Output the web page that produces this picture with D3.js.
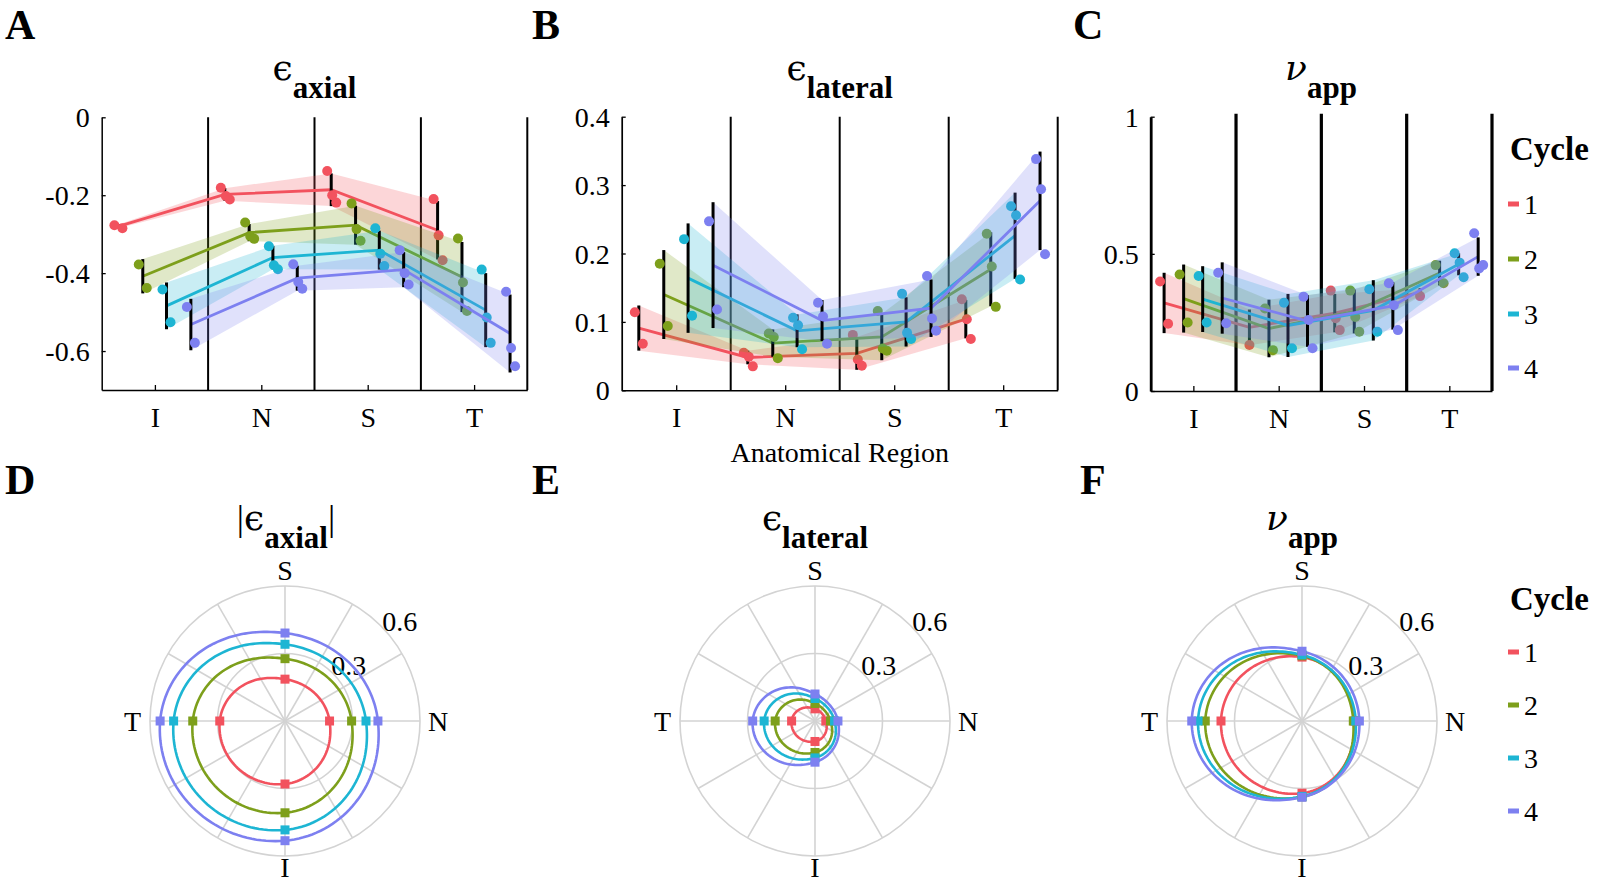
<!DOCTYPE html>
<html><head><meta charset="utf-8">
<script src="https://cdn.jsdelivr.net/npm/d3@7"></script>
<style>
body{margin:0;background:#fff;}
svg{display:block;}
text{font-family:"Liberation Serif","Times New Roman",serif;fill:#000;}
</style>
</head><body>
<svg id="fig" width="1597" height="883"></svg>
<script>
// ---------------- DATA ----------------
const regions = ["I","N","S","T"];
const cycles = ["1","2","3","4"];
const colors = ["#f2525e","#7d9f1b","#1db5d3","#7d80f0"];

// A: axial strain (per cycle, per region I,N,S,T)
const axialMean = [
  [-0.280,-0.198,-0.186,-0.290],
  [-0.408,-0.296,-0.277,-0.410],
  [-0.484,-0.360,-0.341,-0.495],
  [-0.532,-0.413,-0.391,-0.555]];
const axialSD = [
  [0.005,0.016,0.042,0.075],
  [0.044,0.022,0.050,0.090],
  [0.060,0.030,0.050,0.095],
  [0.066,0.032,0.045,0.100]];
const axialPts = [
  [[-0.277,-0.285],[-0.181,-0.202,-0.211],[-0.138,-0.200,-0.219],[-0.210,-0.303,-0.367]],
  [[-0.378,-0.438],[-0.270,-0.305,-0.312],[-0.221,-0.287,-0.317],[-0.311,-0.424,-0.497]],
  [[-0.442,-0.526],[-0.331,-0.380,-0.390],[-0.285,-0.350,-0.382],[-0.391,-0.514,-0.579]],
  [[-0.487,-0.579],[-0.377,-0.423,-0.440],[-0.341,-0.400,-0.429],[-0.448,-0.592,-0.639]]];

// B: lateral strain
const lateralMean = [
  [0.091,0.048,0.054,0.104],
  [0.140,0.069,0.078,0.177],
  [0.164,0.087,0.100,0.226],
  [0.183,0.102,0.120,0.277]];
const lateralSD = [
  [0.033,0.010,0.024,0.028],
  [0.065,0.020,0.034,0.054],
  [0.080,0.024,0.036,0.063],
  [0.092,0.030,0.042,0.072]];
const lateralPts = [
  [[0.114,0.068],[0.055,0.049,0.035],[0.081,0.045,0.036],[0.133,0.104,0.075]],
  [[0.185,0.094],[0.083,0.078,0.047],[0.116,0.061,0.058],[0.229,0.181,0.122]],
  [[0.221,0.109],[0.106,0.095,0.060],[0.141,0.084,0.075],[0.269,0.256,0.162]],
  [[0.247,0.118],[0.128,0.108,0.068],[0.167,0.105,0.087],[0.338,0.294,0.199]]];

// C: apparent Poisson's ratio
const nuMean = [
  [0.321,0.232,0.284,0.360],
  [0.337,0.228,0.290,0.430],
  [0.335,0.239,0.294,0.462],
  [0.339,0.255,0.310,0.490]];
const nuSD = [
  [0.110,0.065,0.070,0.015],
  [0.124,0.105,0.080,0.045],
  [0.120,0.115,0.110,0.040],
  [0.130,0.094,0.086,0.070]];
const nuPts = [
  [[0.399,0.245],[0.168],[0.366,0.265,0.222],[0.346]],
  [[0.425,0.250],[0.301,0.149],[0.366,0.270,0.216],[0.459,0.393]],
  [[0.419,0.250],[0.322,0.156],[0.371,0.216],[0.502,0.468,0.415]],
  [[0.431,0.247],[0.344,0.259,0.156],[0.393,0.313,0.222],[0.575,0.447,0.459]]];

const axialTicks = [0,-0.2,-0.4,-0.6];
const lateralTicks = [0,0.1,0.2,0.3,0.4];
const nuTicks = [0,0.5,1];
const polarTicks = [0.3,0.6];

// ---------------- LAYOUT ----------------
const svg = d3.select("#fig");
const cycleOffset = [0.157,0.386,0.609,0.838];
const FONT = "'Liberation Serif','Times New Roman',serif";
const fmt = d => d === 0 ? "0" : (d < 0 ? "-" : "") + String(Math.abs(+d.toFixed(2)));

function jitter(j, n){
  if (n === 1) return 0;
  if (n === 2) return [-4,4][j];
  return [-4,1,5][j];
}

function linePanel(o){
  const g = svg.append("g");
  const x = d3.scaleLinear().domain([0,4]).range([o.x0,o.x1]);
  const y = d3.scaleLinear().domain(o.domain).range([o.yBot,o.yTop]);

  g.selectAll("line.sep").data([1,2,3,4]).join("line")
    .attr("x1",d=>x(d)).attr("x2",d=>x(d))
    .attr("y1",o.yTop - o.sepExt).attr("y2",o.yBot)
    .attr("stroke","#000").attr("stroke-width",o.sepW);

  const ya = g.append("g").attr("transform",`translate(${o.x0},0)`)
    .call(d3.axisLeft(y).tickValues(o.ticks).tickFormat(fmt).tickSizeInner(-4).tickSizeOuter(0).tickPadding(12));
  ya.select(".domain").attr("stroke-width",o.axW);
  ya.selectAll(".tick line").attr("stroke-width",1.3);
  ya.selectAll("text").attr("font-size",28).attr("font-family",FONT).attr("dy","0.34em");

  const xa = g.append("g").attr("transform",`translate(0,${o.yBot})`)
    .call(d3.axisBottom(x).tickValues([0.5,1.5,2.5,3.5]).tickFormat((d,i)=>regions[i]).tickSizeInner(-5).tickSizeOuter(0).tickPadding(17));
  xa.select(".domain").attr("stroke-width",1.5);
  xa.selectAll(".tick line").attr("stroke-width",1.3);
  xa.selectAll("text").attr("font-size",28).attr("font-family",FONT);

  cycles.forEach((c,ci)=>{
    const rows = regions.map((r,ri)=>({xv: ri + cycleOffset[ci], m:o.mean[ci][ri], s:o.sd[ci][ri], pts:o.pts[ci][ri]}));
    g.append("path").datum(rows)
      .attr("d", d3.area().x(d=>x(d.xv)).y0(d=>y(d.m-d.s)).y1(d=>y(d.m+d.s)))
      .attr("fill",colors[ci]).attr("fill-opacity",0.24);
    g.append("path").datum(rows)
      .attr("d", d3.line().x(d=>x(d.xv)).y(d=>y(d.m)))
      .attr("fill","none").attr("stroke",colors[ci]).attr("stroke-width",2.8);
    g.selectAll(null).data(rows).join("line")
      .attr("x1",d=>x(d.xv)).attr("x2",d=>x(d.xv))
      .attr("y1",d=>y(d.m-d.s)).attr("y2",d=>y(d.m+d.s))
      .attr("stroke","#000").attr("stroke-width",3);
    const dots = [];
    rows.forEach(d=>d.pts.forEach((v,j)=>dots.push({xv:d.xv, v, j, n:d.pts.length})));
    g.selectAll(null).data(dots).join("circle")
      .attr("cx",d=>x(d.xv)+jitter(d.j,d.n)).attr("cy",d=>y(d.v)).attr("r",5)
      .attr("fill",colors[ci]);
  });
}

linePanel({x0:101.7,x1:527.3,yTop:117.3,yBot:390,domain:[-0.7,0],ticks:axialTicks,
  mean:axialMean,sd:axialSD,pts:axialPts,sepW:2,sepExt:0,axW:1.5});
linePanel({x0:621.7,x1:1057.7,yTop:116.7,yBot:390.3,domain:[0,0.4],ticks:lateralTicks,
  mean:lateralMean,sd:lateralSD,pts:lateralPts,sepW:2,sepExt:0,axW:1.7});
linePanel({x0:1150.7,x1:1492,yTop:116.7,yBot:391,domain:[0,1],ticks:nuTicks,
  mean:nuMean,sd:nuSD,pts:nuPts,sepW:3.2,sepExt:3,axW:2.8});

svg.append("text").attr("x",839.7).attr("y",462).attr("text-anchor","middle")
  .attr("font-size",28).text("Anatomical Region");

// ---------------- TITLES ----------------
function title(cx, base, sym, sub, bars, italic){
  const t = svg.append("text").attr("x",cx).attr("y",base).attr("text-anchor","middle");
  if (bars) t.append("tspan").attr("font-size",36).text("|");
  t.append("tspan").attr("font-size",36).attr("font-family","'DejaVu Serif','Liberation Serif',serif")
    .attr("font-style",italic?"italic":"normal").text(sym);
  t.append("tspan").attr("font-size",31).attr("font-weight","bold").attr("dy",18).text(sub);
  if (bars) t.append("tspan").attr("font-size",36).attr("dy",-18).text("|");
}
title(314.5,80,"\u03F5","axial",false,false);
title(839.7,80,"\u03F5","lateral",false,false);
title(1321,80,"\u03BD","app",false,true);
title(286,530,"\u03F5","axial",true,false);
title(815,530,"\u03F5","lateral",false,false);
title(1302,530,"\u03BD","app",false,true);

// ---------------- PANEL LETTERS ----------------
[["A",5,39],["B",532,39],["C",1073,39],["D",5,494],["E",532,494],["F",1080,494]].forEach(([s,x,y])=>{
  svg.append("text").attr("x",x).attr("y",y).attr("font-size",42).attr("font-weight","bold").text(s);
});

// ---------------- POLAR ----------------
const R = 135;
const rScale = d3.scaleLinear().domain([0,0.6]).range([0,R]);
function sampleClosed(vals, n){
  const m = vals.length, out = [];
  for (let i=0;i<n;i++){
    const t = i/n*m, k = Math.floor(t), u = t-k;
    const p0 = vals[(k-1+m)%m], p1 = vals[k%m], p2 = vals[(k+1)%m], p3 = vals[(k+2)%m];
    const r = 0.5*(2*p1 + (-p0+p2)*u + (2*p0-5*p1+4*p2-p3)*u*u + (-p0+3*p1-3*p2+p3)*u*u*u);
    out.push([i/n*2*Math.PI, r]);
  }
  return out;
}
const regionAngle = {S:0, N:Math.PI/2, I:Math.PI, T:3*Math.PI/2};

function polarPanel(cx, cy, mean){
  const g = svg.append("g").attr("transform",`translate(${cx},${cy})`);
  g.selectAll("circle.ring").data(polarTicks).join("circle")
    .attr("r",d=>rScale(d)).attr("fill","none").attr("stroke","#d3d3d3").attr("stroke-width",1.6);
  g.selectAll("line.spoke").data(d3.range(12)).join("line")
    .attr("x1",0).attr("y1",0)
    .attr("x2",d=>R*Math.cos(d*Math.PI/6)).attr("y2",d=>R*Math.sin(d*Math.PI/6))
    .attr("stroke","#d3d3d3").attr("stroke-width",1.6);
  const la = 41*Math.PI/180;
  g.selectAll("text.rt").data(polarTicks).join("text")
    .attr("x",d=>(rScale(d)+17)*Math.cos(la)).attr("y",d=>-(rScale(d)+17)*Math.sin(la))
    .attr("text-anchor","middle").attr("dy","0.35em").attr("font-size",28).text(d=>String(d));
  g.append("text").attr("x",0).attr("y",-R-6).attr("text-anchor","middle").attr("font-size",28).text("S");
  g.append("text").attr("x",0).attr("y",R+21).attr("text-anchor","middle").attr("font-size",28).text("I");
  g.append("text").attr("x",R+8).attr("y",10).attr("text-anchor","start").attr("font-size",28).text("N");
  g.append("text").attr("x",-R-9).attr("y",10).attr("text-anchor","end").attr("font-size",28).text("T");

  const radial = d3.lineRadial().angle(d=>d[0]).radius(d=>rScale(d[1])).curve(d3.curveLinearClosed);
  cycles.forEach((c,ci)=>{
    const v = mean[ci].map(Math.abs);
    const byAngle = [v[2], v[1], v[0], v[3]]; // S, N, I, T
    g.append("path").attr("d", radial(sampleClosed(byAngle, 160)))
      .attr("fill","none").attr("stroke",colors[ci]).attr("stroke-width",2.6);
  });
  cycles.forEach((c,ci)=>{
    const pts = regions.map((r,ri)=>({a:regionAngle[r], v:Math.abs(mean[ci][ri])}));
    g.selectAll(null).data(pts).join("rect")
      .attr("x",d=>rScale(d.v)*Math.sin(d.a)-4.5).attr("y",d=>-rScale(d.v)*Math.cos(d.a)-4.5)
      .attr("width",9).attr("height",9).attr("fill",colors[ci]);
  });
}
polarPanel(285,721,axialMean);
polarPanel(815,721,lateralMean);
polarPanel(1302,721,nuMean);

// ---------------- LEGENDS ----------------
function legend(x, titleBase, ys){
  svg.append("text").attr("x",x).attr("y",titleBase).attr("font-size",33).attr("font-weight","bold").text("Cycle");
  cycles.forEach((c,ci)=>{
    svg.append("rect").attr("x",x-2).attr("y",ys[ci]-2.5).attr("width",11).attr("height",5).attr("fill",colors[ci]);
    svg.append("text").attr("x",x+14).attr("y",ys[ci]).attr("dy","0.35em").attr("font-size",28).text(c);
  });
}
legend(1510,160,[204,259,314,368]);
legend(1510,610,[652,705,758,811]);
</script>
</body></html>
